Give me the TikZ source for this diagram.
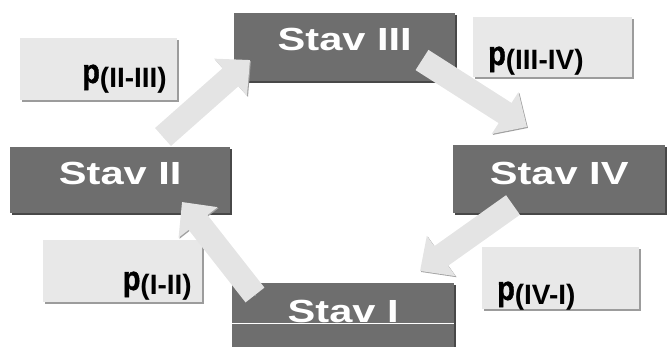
\documentclass[tikz,border=0pt]{standalone}
\usepackage{fontspec}
\setmainfont{Liberation Sans}
\newfontfamily\stavfont{Liberation Sans}[FakeStretch=1.3]
\newfontfamily\pfont{Liberation Sans}[FakeStretch=0.85,FakeBold=1.2]
\newfontfamily\subfont{Liberation Sans}
\usetikzlibrary{arrows.meta,shadows}
\definecolor{stavgray}{HTML}{6E6E6E}
\definecolor{stavshadow}{HTML}{484848}
\definecolor{pgray}{HTML}{E8E8E8}
\definecolor{pshadow}{HTML}{9C9C9C}
\definecolor{arrowgray}{HTML}{E4E4E4}
\definecolor{arrowshadow}{HTML}{A0A0A0}
\newcommand\pvar[1]{{\pfont\bfseries\fontsize{34}{34}\selectfont p}\raisebox{-5pt}{\subfont\bfseries\fontsize{28}{28}\selectfont(#1)}}
\tikzset{
  stav/.style={fill=stavgray, anchor=north west, inner sep=0pt, text=white,
    font=\stavfont\bfseries\fontsize{32}{32}\selectfont, text height=23pt,
    drop shadow={shadow xshift=2pt, shadow yshift=-2pt, opacity=1, fill=stavshadow}},
  pbox/.style={fill=pgray, anchor=north west, inner sep=0pt,
    drop shadow={shadow xshift=2pt, shadow yshift=-2pt, opacity=1, fill=pshadow}},
  plabel/.style={inner sep=0pt, text=black},
  bigarrow/.style={line width=24pt, draw=arrowgray, -{Triangle[width=48pt,length=26pt]},
    preaction={draw=arrowshadow, -{Triangle[width=48pt,length=26pt]}, transform canvas={shift={(1pt,-1pt)}}}}
}
\begin{document}
\begin{tikzpicture}[x=1pt,y=-1pt]
\useasboundingbox (0,0) rectangle (670,347);
% state boxes
\node[stav, minimum width=221pt, minimum height=68pt, text depth=17pt] (s3) at (234,13) {Stav III};
\node[stav, minimum width=220pt, minimum height=66pt, text depth=15pt] (s2) at (10,147) {Stav II};
\node[stav, minimum width=212pt, minimum height=68pt, text depth=13pt] (s4) at (453,145) {Stav IV};
\node[stav, minimum width=222pt, minimum height=66pt, text depth=10pt] (s1) at (232,283) {Stav I};
\draw[white, line width=0.8pt] ([yshift=-40pt]s1.north west) -- ([yshift=-40pt]s1.north east);
% probability boxes
\node[pbox, minimum width=157pt, minimum height=62pt] (b23) at (20,38) {};
\node[pbox, minimum width=159pt, minimum height=60pt] (b34) at (473,17) {};
\node[pbox, minimum width=159pt, minimum height=62pt] (b12) at (43,240) {};
\node[pbox, minimum width=157pt, minimum height=62pt] (b41) at (482,247) {};
\node[plabel, anchor=base east] (l23) at (167,83) {\pvar{II-III}};
\node[plabel, anchor=base west] (l34) at (488,65) {\pvar{III-IV}};
\node[plabel, anchor=base east] (l12) at (192,290) {\pvar{I-II}};
\node[plabel, anchor=base west] (l41) at (497,300) {\pvar{IV-I}};
% arrows
\coordinate (a1s) at (163,137); \coordinate (a1e) at (250,60);
\coordinate (a2s) at (422,60);  \coordinate (a2e) at (527,127);
\coordinate (a3s) at (513,205); \coordinate (a3e) at (420,271);
\coordinate (a4s) at (255,295); \coordinate (a4e) at (182,202);
\draw[bigarrow] (a1s) -- (a1e);
\draw[bigarrow] (a2s) -- (a2e);
\draw[bigarrow] (a3s) -- (a3e);
\draw[bigarrow] (a4s) -- (a4e);
\end{tikzpicture}
\end{document}
